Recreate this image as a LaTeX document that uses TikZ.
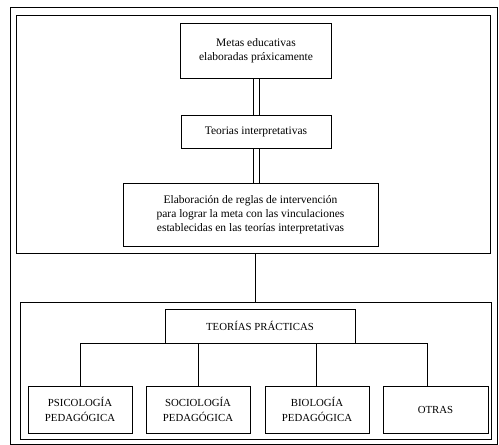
\documentclass[tikz,border=0pt]{standalone}
\usepackage{fontspec}
\setmainfont{Liberation Serif}
\begin{document}
\begin{tikzpicture}[x=1pt,y=-1pt,
  frame/.style={draw, line width=1pt, inner sep=0pt, outer sep=0pt},
  box/.style={draw, line width=0.9pt, inner sep=0pt, outer sep=0pt, align=center,
    font=\fontsize{11.5}{14}\selectfont},
  capbox/.style={box, font=\fontsize{10.8}{14.5}\selectfont},
  link/.style={line width=0.9pt}]
\useasboundingbox (0,0) rectangle (499,445);
% outer frame and the two inner panels
\node[frame, minimum width=487pt, minimum height=437pt] (outer) at (254,225.5) {};
\node[frame, minimum width=474pt, minimum height=238pt] (top) at (253,134) {};
\node[frame, minimum width=471pt, minimum height=137pt] (bottom) at (255.5,370.5) {};
% upper panel
\node[box, minimum width=151pt, minimum height=55pt] (metas) at (256,50.5)
  {Metas educativas\\elaboradas práxicamente};
\node[box, minimum width=150pt, minimum height=33pt] (teorias) at (256,131.5)
  {Teorias interpretativas};
\node[box, minimum width=255pt, minimum height=63pt] (reglas) at (250.5,214.5)
  {Elaboración de reglas de intervención\\para lograr la meta con las vinculaciones\\establecidas en las teorías interpretativas};
% double connectors between the upper boxes
\foreach \dx in {-3,3} {
  \draw[link] ([xshift=\dx pt]metas.south) -- ([xshift=\dx pt]teorias.north);
  \draw[link] ([xshift=\dx pt]teorias.south) -- ([xshift=\dx pt]teorias.south |- reglas.north);
}
\draw[link] (top.south -| 255,0) -- (bottom.north -| 255,0);
% lower panel
\node[capbox, minimum width=190pt, minimum height=34pt] (tp) at (260,326) {TEORÍAS PRÁCTICAS};
\node[capbox, minimum width=104pt, minimum height=47pt] (psi) at (80,409.5) {PSICOLOGÍA\\PEDAGÓGICA};
\node[capbox, minimum width=104pt, minimum height=47pt] (soc) at (198,409.5) {SOCIOLOGÍA\\PEDAGÓGICA};
\node[capbox, minimum width=104pt, minimum height=47pt] (bio) at (317,409.5) {BIOLOGÍA\\PEDAGÓGICA};
\node[capbox, minimum width=105pt, minimum height=47pt] (otras) at (435.5,409.5) {OTRAS};
\coordinate (bar) at (0,343);
\draw[link] (psi.north) -- (psi.north |- bar) -- (427,343) -- (427,343 |- otras.north);
\draw[link] (soc.north) -- (soc.north |- bar);
\draw[link] (316,343) -- (316,343 |- bio.north);
\end{tikzpicture}
\end{document}
